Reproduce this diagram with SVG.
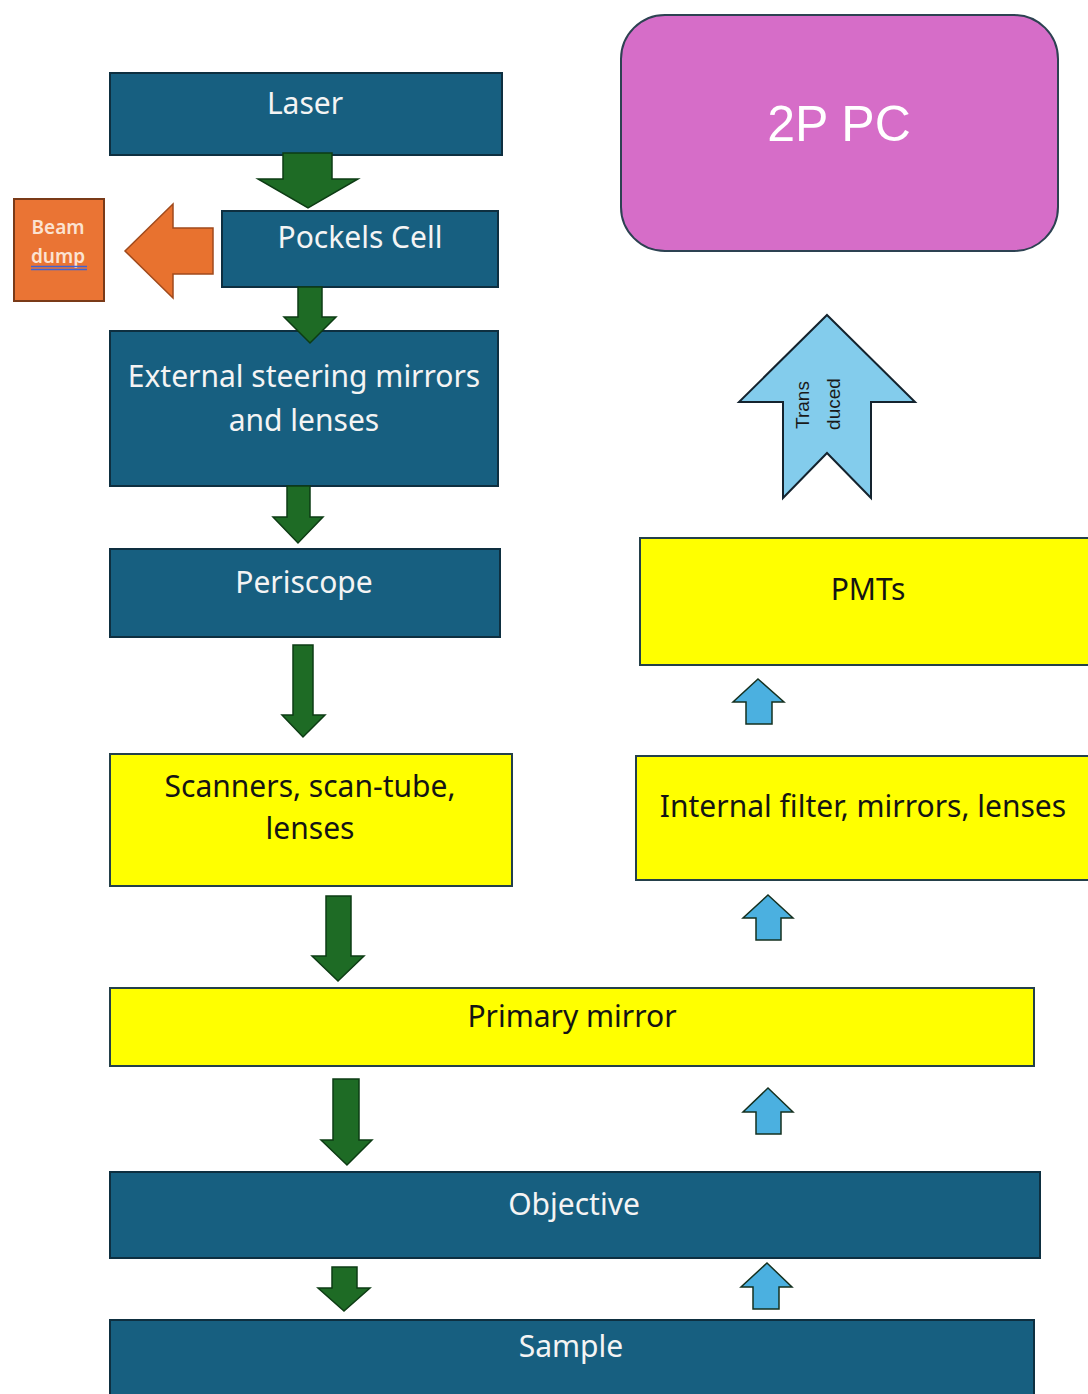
<svg xmlns="http://www.w3.org/2000/svg" width="1088" height="1394" viewBox="0 0 1088 1394">
  <defs>
    <style>
      .blue { fill: #175f80; stroke: #0e2f40; stroke-width: 2; }
      .yellow { fill: #ffff00; stroke: #24404a; stroke-width: 2; }
      .pc { fill: #d66dc8; stroke: #2d4252; stroke-width: 2; }
      .dump { fill: #ea7434; stroke: #7a3a18; stroke-width: 2; }
      .lbl { font-family: "Noto Sans", "Open Sans", sans-serif; font-size: 30px; text-anchor: middle; }
      .light { fill: #f4f4f4; }
      .dark { fill: #141414; }
      .green { fill: #1e6b25; stroke: #0d3c14; stroke-width: 1.5; }
      .orange { fill: #e8722f; stroke: #a04a1c; stroke-width: 1.5; }
      .sky { fill: #4bb0e0; stroke: #15301f; stroke-width: 1.5; }
      .big-sky { fill: #83ccec; stroke: #14232e; stroke-width: 2; }
      .vert { font-family: "Liberation Sans", Arial, sans-serif; font-size: 19px; fill: #1a1a1a; text-anchor: middle; }
    </style>
  </defs>
  <rect width="1088" height="1394" fill="#ffffff"/>

  <!-- excitation path (left column) -->
  <g id="laser">
    <rect class="blue" x="110" y="73" width="392" height="82"/>
    <text class="lbl light" x="305" y="114">Laser</text>
  </g>
  <g id="pockels-cell">
    <rect class="blue" x="222" y="211" width="276" height="76"/>
    <text class="lbl light" x="360" y="248">Pockels Cell</text>
  </g>
  <g id="beam-dump">
    <rect class="dump" x="14" y="199" width="90" height="102"/>
    <text x="58" y="234" font-family="Noto Sans, sans-serif" font-size="19" font-weight="600" fill="#fbe3d2" text-anchor="middle">Beam</text>
    <text x="58" y="263" font-family="Noto Sans, sans-serif" font-size="19" font-weight="600" fill="#fbe3d2" text-anchor="middle">dump</text>
    <line x1="31" y1="266.5" x2="87" y2="266.5" stroke="#3d63d6" stroke-width="1.5"/>
    <line x1="31" y1="269.5" x2="87" y2="269.5" stroke="#3d63d6" stroke-width="1.5"/>
  </g>
  <g id="external-optics">
    <rect class="blue" x="110" y="331" width="388" height="155"/>
    <text class="lbl light" x="304" y="387">External steering mirrors</text>
    <text class="lbl light" x="304" y="431">and lenses</text>
  </g>
  <g id="periscope">
    <rect class="blue" x="110" y="549" width="390" height="88"/>
    <text class="lbl light" x="304" y="593">Periscope</text>
  </g>
  <g id="scanners">
    <rect class="yellow" x="110" y="754" width="402" height="132"/>
    <text class="lbl dark" x="310" y="797">Scanners, scan-tube,</text>
    <text class="lbl dark" x="310" y="839">lenses</text>
  </g>
  <g id="primary-mirror">
    <rect class="yellow" x="110" y="988" width="924" height="78"/>
    <text class="lbl dark" x="572" y="1027">Primary mirror</text>
  </g>
  <g id="objective">
    <rect class="blue" x="110" y="1172" width="930" height="86"/>
    <text class="lbl light" x="574" y="1215">Objective</text>
  </g>
  <g id="sample">
    <rect class="blue" x="110" y="1320" width="924" height="80"/>
    <text class="lbl light" x="571" y="1357">Sample</text>
  </g>

  <!-- detection path (right column) -->
  <g id="pc-2p">
    <rect class="pc" x="621" y="15" width="437" height="236" rx="44" ry="44"/>
    <text x="839" y="141" font-family="Liberation Sans, Arial, sans-serif" font-size="50" fill="#ffffff" text-anchor="middle">2P PC</text>
  </g>
  <g id="pmts">
    <rect class="yellow" x="640" y="538" width="452" height="127"/>
    <text class="lbl dark" x="868" y="600">PMTs</text>
  </g>
  <g id="internal-optics">
    <rect class="yellow" x="636" y="756" width="456" height="124"/>
    <text class="lbl dark" x="863" y="817">Internal filter, mirrors, lenses</text>
  </g>

  <!-- connectors -->
  <g id="connectors">
    <path class="green" d="M283,153 L332,153 L332,179 L358,179 L308,208 L258,179 L283,179 Z"/>
    <path class="green" d="M298,287 L322,287 L322,317 L336,317 L310,343 L284,317 L298,317 Z"/>
    <path class="green" d="M287,486 L310,486 L310,517 L323,517 L298,543 L273,517 L287,517 Z"/>
    <path class="green" d="M293,645 L313,645 L313,715 L325,715 L303,737 L282,715 L293,715 Z"/>
    <path class="green" d="M326,896 L351,896 L351,956 L364,956 L338,981 L312,956 L326,956 Z"/>
    <path class="green" d="M333,1079 L359,1079 L359,1140 L372,1140 L347,1165 L321,1140 L333,1140 Z"/>
    <path class="green" d="M332,1267 L357,1267 L357,1288 L370,1288 L344,1311 L318,1288 L332,1288 Z"/>

    <path class="orange" d="M213,228 L173,228 L173,204 L125,251 L173,298 L173,274 L213,274 Z"/>

    <path class="sky" d="M758,679 L784,702 L772,702 L772,724 L746,724 L746,702 L733,702 Z"/>
    <path class="sky" d="M768,895 L793,918 L781,918 L781,940 L756,940 L756,918 L743,918 Z"/>
    <path class="sky" d="M768,1088 L793,1112 L781,1112 L781,1134 L756,1134 L756,1112 L743,1112 Z"/>
    <path class="sky" d="M767,1263 L792,1287 L779,1287 L779,1309 L753,1309 L753,1287 L741,1287 Z"/>

    <g id="transduced">
      <path class="big-sky" d="M827,315 L915,402 L871,402 L871,498 L827,453 L783,498 L783,402 L739,402 Z"/>
      <text class="vert" transform="translate(809,405) rotate(-90)">Trans</text>
      <text class="vert" transform="translate(840,404) rotate(-90)">duced</text>
    </g>
  </g>
</svg>
